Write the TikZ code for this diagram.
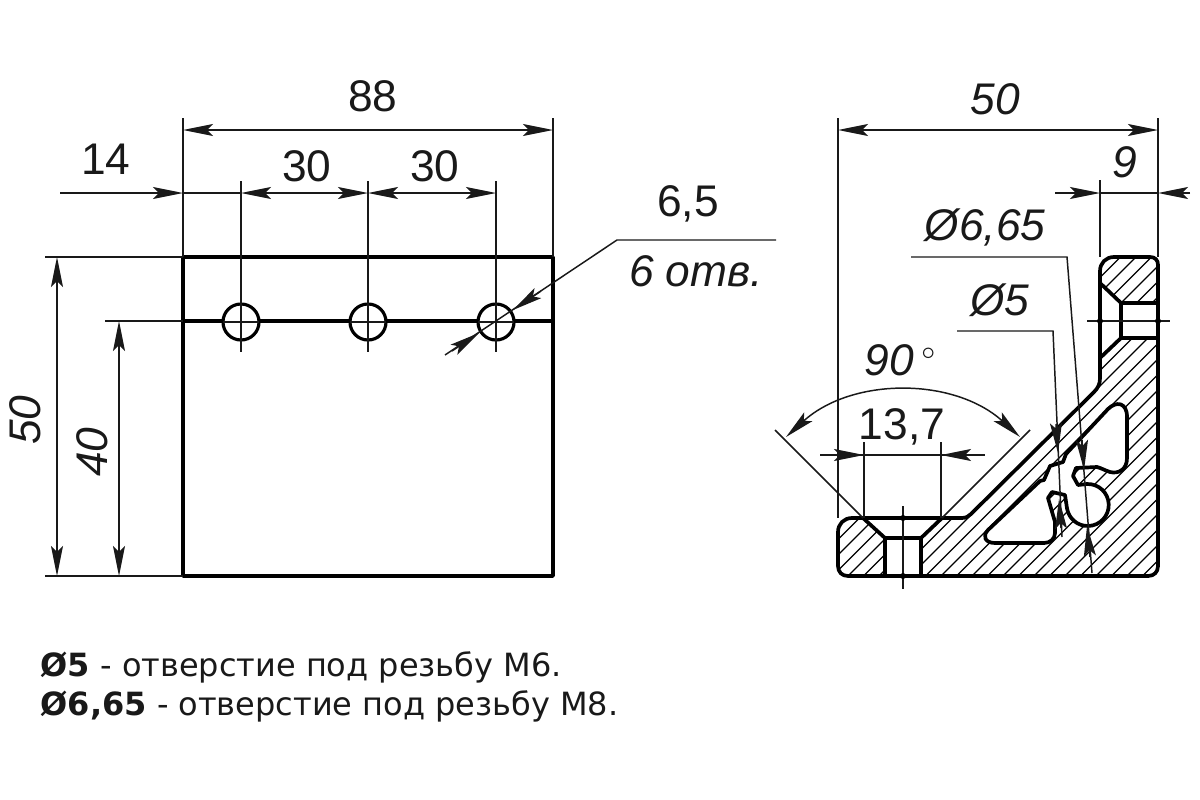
\documentclass[tikz,border=0pt]{standalone}
\usepackage{fontspec}
\setmainfont{Liberation Sans}
\newfontfamily\notefont{DejaVu Sans}
\usetikzlibrary{arrows.meta}
\tikzset{
    thinline/.style={line width=.42pt, draw=black!90},
    contour/.style={line width=1.05pt, line join=round},
    dimline/.style={thinline, {Stealth[length=3mm,width=1.2mm,inset=.6mm]}-{Stealth[length=3mm,width=1.2mm,inset=.6mm]}},
    tipend/.style={thinline, -{Stealth[length=3mm,width=1.2mm,inset=.6mm]}},
    hatchline/.style={line width=.38pt},
    dimtext/.style={font=\fontsize{12.6}{14}\selectfont, inner sep=0pt, text=black!90},
    dimslant/.style={dimtext, font=\fontsize{12.6}{14}\selectfont\itshape},
    notetext/.style={font=\notefont\fontsize{9.1}{11}\selectfont, inner sep=0pt, anchor=west, text=black!90}
}
% pieces of the cut profile
\newcommand{\footpiece}{(863,518) -- (885,538) -- (885,576) -- (848,576) .. controls (842,576) and (838,572) .. (838,566) -- (838,532) .. controls (838,524) and (844,518) .. (852,518) -- cycle}
\newcommand{\legpiece}{(1100,283) -- (1121,303) -- (1158,303) -- (1158,265) .. controls (1158,260) and (1155,257) .. (1150,257) -- (1114,257) .. controls (1106,257) and (1100,263) .. (1100,271) -- cycle}
\newcommand{\bodypiece}{(921,576) -- (921,538) -- (942,518) -- (962,518) .. controls (966,518) and (969,516) .. (971,514) -- (1094,392) .. controls (1098,388) and (1100,384) .. (1100,378) -- (1100,358) -- (1121,338) -- (1158,338) -- (1158,566) .. controls (1158,572) and (1154,576) .. (1148,576) -- cycle}
\newcommand{\cavity}{(988,530) -- (1040,481) -- (1044,480) -- (1050,466) -- (1063,462) -- (1066,454) -- (1108,409) .. controls (1116,401) and (1127,402) .. (1127,417) -- (1127,458) .. controls (1127,470) and (1118,474) .. (1110,472) .. controls (1104,470) and (1101,468) .. (1097,467) -- (1076,468) -- (1073,476) -- (1078,485) -- (1087,484) arc[start angle=-92, end angle=170, radius=21] -- (1065,495) -- (1052,492) -- (1048,498) -- (1055,522) -- (1055,533) .. controls (1055,539) and (1050,543) .. (1044,543) -- (995,543) .. controls (985,543) and (982,536) .. (988,530) -- cycle}
\begin{document}
\begin{tikzpicture}[x=.01cm, y=-.01cm]
    \useasboundingbox (0,0) rectangle (1200,800);

    % front view
    \draw[contour] (183,257) rectangle (553,576);
    \draw[contour] (183,321) -- (223,321) (259,321) -- (350,321) (386,321) -- (478,321) (514,321) -- (553,321);
    \foreach \holex/\holename in {241/holea, 368/holeb, 496/holec} {
        \node[circle, draw, line width=.9pt, minimum size=.36cm, inner sep=0pt] (\holename) at (\holex,322) {};
        \draw[thinline] (\holex,181) -- (\holex,352);
        \draw[thinline] (\holex-18,322) -- (\holex+18,322);
    }

    \draw[thinline] (183,118) -- (183,257) (553,118) -- (553,257);
    \draw[thinline] (45,257) -- (183,257) (45,576) -- (183,576) (105,321) -- (183,321);
    \draw[dimline] (183,130) -- (553,130);
    \draw[tipend] (60,193) -- (183,193);
    \draw[thinline] (183,193) -- (241,193);
    \draw[dimline] (241,193) -- (368,193);
    \draw[dimline] (368,193) -- (496,193);
    \draw[dimline] (57,257) -- (57,576);
    \draw[dimline] (119,321) -- (119,576);

    \node[dimtext] (lenall) at (373,96) {88};
    \node[dimtext] (lenedge) at (106,159) {14};
    \node[dimtext] (pitcha) at (307,166) {30};
    \node[dimtext] (pitchb) at (435,166) {30};
    \node[dimslant, rotate=90] (heightall) at (25,420) {50};
    \node[dimslant, rotate=90] (heighthole) at (92,452) {40};

    % leader of the holes
    \draw[thinline] (445,355) -- (617,240) -- (776,240);
    \draw[tipend] (541,291) -- (513,310);
    \draw[tipend] (452,351) -- (479,333);
    \node[dimtext] (holesize) at (688,204) {6,5};
    \node[dimslant] (holecount) at (696,271) {6 отв.};

    % cut view
    \begin{scope}[even odd rule]
        \clip \footpiece \legpiece \bodypiece \cavity;
        \foreach \i in {0,...,50} {
            \draw[hatchline] (700+\i*15.5,600) -- ++(400,-400);
        }
    \end{scope}
    \draw[contour] \footpiece;
    \draw[contour] \legpiece;
    \draw[contour] \bodypiece;
    \draw[contour] \cavity;
    \draw[contour] (863,518) -- (942,518);
    \draw[contour] (885,538) -- (921,538);
    \draw[contour] (885,576) -- (921,576);
    \draw[contour] (1100,283) -- (1100,358);
    \draw[contour] (1121,303) -- (1121,338);
    \draw[contour] (1158,303) -- (1158,338);
    \draw[thinline] (903,506) -- (903,589);
    \draw[thinline] (1087,321) -- (1170,321);
    \foreach \markx/\marky/\markname in {903/518/marka, 903/576/markb, 1100/321/markc, 1158/321/markd} {
        \fill (\markx,\marky) circle (3) coordinate (\markname);
    }

    % dimensions of the cut view
    \draw[thinline] (838,118) -- (838,518) (1158,118) -- (1158,257) (1100,180) -- (1100,257);
    \draw[dimline] (838,130) -- (1158,130);
    \draw[tipend] (1055,193) -- (1100,193);
    \draw[thinline] (1100,193) -- (1158,193);
    \draw[tipend] (1190,193) -- (1158,193);
    \node[dimslant] (widthall) at (995,99) {50};
    \node[dimslant] (widthleg) at (1125,162) {9};

    \draw[thinline] (775,430) -- (863,518) (942,518) -- (1030,430);
    \draw[dimline] (786,437) .. controls (852,377) and (954,377) .. (1020,437);
    \node[dimslant] (anglevalue) at (900,360) {90\,\raisebox{.35em}{\scriptsize$\circ$}};

    \draw[thinline] (864,442) -- (864,518) (941,442) -- (941,518);
    \draw[thinline] (820,455) -- (985,455);
    \draw[tipend] (833,455) -- (864,455);
    \draw[tipend] (973,455) -- (941,455);
    \node[dimtext] (sinksize) at (902,427) {13,7};

    \draw[thinline] (911,257) -- (1067,257) -- (1092,573);
    \draw[tipend] (1082,440) -- (1084,470);
    \draw[tipend] (1090,557) -- (1087,526);
    \node[dimslant] (boreb) at (985,227) {Ø6,65};

    \draw[thinline] (957,331) -- (1053,331) -- (1062,537);
    \draw[tipend] (1056,424) -- (1058,453);
    \draw[tipend] (1061,528) -- (1059,499);
    \node[dimslant] (borea) at (1000,300) {Ø5};

    % note
    \node[notetext] (notea) at (40,667) {\textbf{Ø5} - отверстие под резьбу М6.};
    \node[notetext] (noteb) at (40,706) {\textbf{Ø6,65} - отверстие под резьбу М8.};
\end{tikzpicture}
\end{document}
